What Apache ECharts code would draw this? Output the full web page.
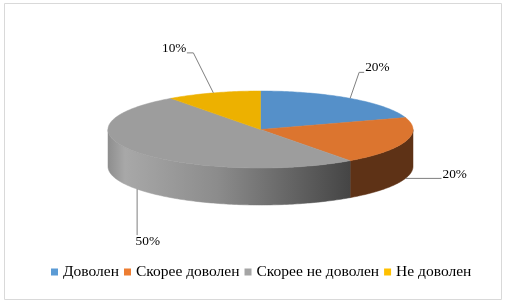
<!DOCTYPE html>
<html>
<head>
<meta charset="utf-8">
<script src="https://cdn.jsdelivr.net/npm/echarts@6/dist/echarts.min.js"></script>
<style>
    html, body { margin: 0; padding: 0; background: #fff; }
    #chart { width: 507px; height: 306px; }
</style>
</head>
<body>
<div id="chart"></div>
<script>
// data
var categories = ['Доволен', 'Скорее доволен', 'Скорее не доволен', 'Не доволен'];
var values = [20, 20, 50, 10];
var percentLabels = ['20%', '20%', '50%', '10%'];

// colours
var topColors = ['#5590c9', '#dc752f', '#9d9d9d', '#edb100'];
var legendColors = ['#5b9bd5', '#ed7d31', '#a5a5a5', '#ffc000'];
var sideColors = ['#2f5a83', '#5e3216', null, '#8a6a00'];

// label leader layout (relative to slice anchor)
var leaderPaths = [
    [[9, -26], [14, -26]],
    [[36, 0]],
    [[0, 46]],
    [[-20, -40], [-26.5, -40]]
];
var labelOffsets = [[15, -31, 'left'], [37, -4, 'left'], [-1.5, 52, 'left'], [-27, -44, 'right']];

// pie geometry
var cx = 260.5, cy = 129.5, rx = 152.5, ry = 38.5, depth = 37;

var total = values.reduce(function (a, b) { return a + b; }, 0);
var starts = [];
var acc = 0;
values.forEach(function (v) { starts.push(acc / total * 360); acc += v; });

function pt(deg, dy) {
    var r = deg * Math.PI / 180;
    return [cx + rx * Math.sin(r), cy - ry * Math.cos(r) + (dy || 0)];
}

function arc(a0, a1, dy) {
    var pts = [];
    var n = Math.max(2, Math.ceil(Math.abs(a1 - a0)));
    for (var k = 0; k <= n; k++) {
        pts.push(pt(a0 + (a1 - a0) * k / n, dy));
    }
    return pts;
}

var graySide = new echarts.graphic.LinearGradient(108, 0, 350, 0, [
    { offset: 0, color: '#8e8e8e' },
    { offset: 0.07, color: '#a8a8a8' },
    { offset: 0.45, color: '#8c8c8c' },
    { offset: 1, color: '#454545' }
], true);

function renderSlice(params, api) {
    var i = params.dataIndex;
    var s = starts[i];
    var e = s + api.value(0) / total * 360;
    var children = [];

    // side wall (front half only)
    var fs = Math.max(s, 90), fe = Math.min(e, 270);
    if (fe > fs) {
        var sidePts = arc(fs, fe, 0).concat(arc(fe, fs, depth));
        var fill = sideColors[i] || graySide;
        children.push({
            type: 'polygon',
            z2: 1,
            shape: { points: sidePts },
            style: { fill: fill, stroke: fill, lineWidth: 0.5 }
        });
    }

    // top face
    var topPts = [[cx, cy]].concat(arc(s, e, 0));
    children.push({
        type: 'polygon',
        z2: 10,
        shape: { points: topPts },
        style: { fill: topColors[i], stroke: topColors[i], lineWidth: 0.5 }
    });

    // label + leader
    var mid = (s + e) / 2;
    var front = Math.cos(mid * Math.PI / 180) < 0;
    var anchor = pt(mid, front ? depth : 0);
    var line = [anchor].concat(leaderPaths[i].map(function (p) {
        return [anchor[0] + p[0], anchor[1] + p[1]];
    }));
    children.push({
        type: 'polyline',
        z2: 20,
        shape: { points: line },
        style: { stroke: '#7f7f7f', lineWidth: 1, fill: null }
    });
    var off = labelOffsets[i];
    children.push({
        type: 'text',
        z2: 21,
        style: {
            text: percentLabels[i],
            x: anchor[0] + off[0],
            y: anchor[1] + off[1],
            align: off[2],
            verticalAlign: 'middle',
            fill: '#000',
            font: '13.3px "Liberation Serif"'
        }
    });

    return { type: 'group', children: children };
}

var chart = echarts.init(document.getElementById('chart'));

var option = {
    animation: false,
    graphic: [{
        type: 'rect',
        shape: { x: 4.5, y: 3.5, width: 497, height: 296 },
        style: { fill: null, stroke: '#d9d9d9', lineWidth: 1 },
        z: -1
    }],
    legend: {
        left: 51,
        top: 264,
        padding: 0,
        icon: 'rect',
        itemWidth: 7,
        itemHeight: 7,
        itemGap: 5,
        data: categories,
        textStyle: {
            fontFamily: 'Liberation Serif',
            fontSize: 15.5,
            lineHeight: 16,
            color: '#000'
        }
    },
    series: [
        {
            type: 'custom',
            coordinateSystem: 'none',
            renderItem: renderSlice,
            data: values.map(function (v, i) { return { name: categories[i], value: [v] }; })
        },
        {
            type: 'pie',
            radius: [0, 0],
            silent: true,
            label: { show: false },
            labelLine: { show: false },
            data: values.map(function (v, i) {
                return { name: categories[i], value: v, itemStyle: { color: legendColors[i] } };
            })
        }
    ]
};

chart.setOption(option);
</script>
</body>
</html>
